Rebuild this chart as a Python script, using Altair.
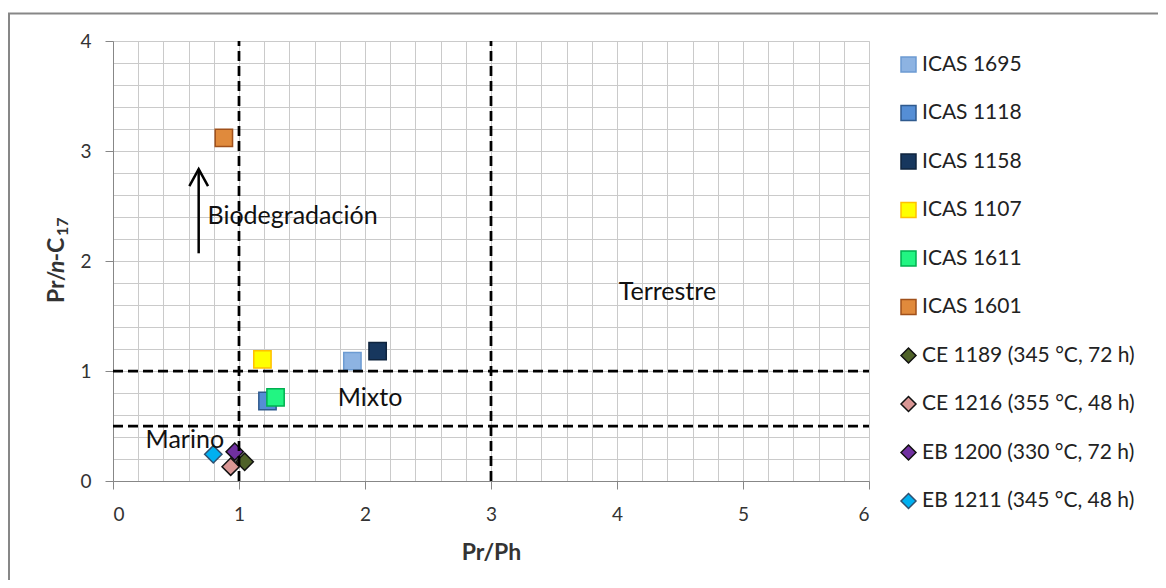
import altair as alt
import pandas as pd

# ---------------- data ----------------
series = ["ICAS 1695", "ICAS 1118", "ICAS 1158", "ICAS 1107", "ICAS 1611", "ICAS 1601",
          "CE 1189 (345 °C, 72 h)", "CE 1216 (355 °C, 48 h)",
          "EB 1200 (330 °C, 72 h)", "EB 1211 (345 °C, 48 h)"]
pr_ph = [1.90, 1.226, 2.10, 1.186, 1.29, 0.88, 1.045, 0.934, 0.966, 0.796]
pr_nc17 = [1.09, 0.727, 1.18, 1.106, 0.76, 3.12, 0.175, 0.13, 0.266, 0.243]
fill_colors = ["#8DB3E2", "#558ED5", "#17375E", "#FFFF00", "#22F582", "#E08A3C",
               "#4F6228", "#D99694", "#7030A0", "#00B0F0"]
stroke_colors = ["#6C9BD2", "#2F5A8E", "#0F243E", "#FFC000", "#00B050", "#A0501A",
                 "#111111", "#111111", "#111111", "#305070"]
marker_shapes = ["square"] * 6 + ["diamond"] * 4

vline_x = [1, 3]
hline_y = [1, 0.5]

ann_text = ["Biodegradación", "Terrestre", "Mixto", "Marino"]
ann_x = [0.75, 4.40, 2.04, 0.57]
ann_y = [2.41, 1.72, 0.757, 0.37]
ann_align = ["left", "center", "center", "center"]

arrow_x = [0.68]
arrow_y0 = [2.07]
arrow_y1 = [2.836]

x_grid = [round(i * 0.2, 1) for i in range(31)]
y_grid = [round(i * 0.2, 1) for i in range(21)]

pts = pd.DataFrame({"series": series, "x": pr_ph, "y": pr_nc17})
vdf = pd.DataFrame({"x": vline_x, "y0": [0] * len(vline_x), "y1": [4] * len(vline_x)})
hdf = pd.DataFrame({"y": hline_y, "x0": [0] * len(hline_y), "x1": [6] * len(hline_y)})
adf = pd.DataFrame({"t": ann_text, "x": ann_x, "y": ann_y, "al": ann_align})
arr = pd.DataFrame({"x": arrow_x, "y0": arrow_y0, "y1": arrow_y1})

# ---------------- scales / axes ----------------
FONT = "Lato"
GRAY = "#878787"
x_scale = alt.Scale(domain=[0, 6], nice=False, zero=False)
y_scale = alt.Scale(domain=[0, 4], nice=False, zero=False)

LBL = "datum.value % 1 == 0 ? format(datum.value, 'd') : ''"
TICKC = {"condition": {"test": "datum.value % 1 != 0", "value": "transparent"}, "value": GRAY}

x_axis = alt.Axis(
    values=x_grid, labelExpr=LBL, tickColor=TICKC,
    tickSize=8, labelPadding=16, labelFontSize=19, labelColor="#333333", labelFont=FONT,
    gridColor="#CACACA", gridWidth=1, domainColor=GRAY, domainWidth=1,
    titleFontSize=23, titleFontWeight="bold", titleColor="#333333", titleFont=FONT,
    titlePadding=17,
)
y_axis = alt.Axis(
    values=y_grid, labelExpr=LBL, tickColor=TICKC,
    tickSize=8, labelPadding=14, labelFontSize=19, labelColor="#333333", labelFont=FONT,
    gridColor="#CACACA", gridWidth=1, domainColor=GRAY, domainWidth=1,
)

def X(field):
    return alt.X(field, type="quantitative", scale=x_scale, axis=x_axis, title="Pr/Ph")

def Y(field):
    return alt.Y(field, type="quantitative", scale=y_scale, axis=y_axis, title=None)

points = alt.Chart(pts).mark_point(filled=True, opacity=1, strokeWidth=1.5, size=300).encode(
    x=X("x"),
    y=Y("y"),
    fill=alt.Fill("series:N", scale=alt.Scale(domain=series, range=fill_colors), title=None,
                  legend=alt.Legend(orient="none", legendX=785, legendY=13, symbolSize=225,
                                    symbolStrokeWidth=1.5, labelFontSize=21, labelFont=FONT,
                                    labelColor="#222222", rowPadding=26.5, labelOffset=3,
                                    labelLimit=400)),
    stroke=alt.Stroke("series:N", scale=alt.Scale(domain=series, range=stroke_colors), title=None),
    shape=alt.Shape("series:N", scale=alt.Scale(domain=series, range=marker_shapes), title=None),
)

vlines = alt.Chart(vdf).mark_rule(color="black", strokeWidth=2.75, strokeDash=[10, 5]).encode(
    x=X("x"), y=Y("y0"), y2="y1"
)
hlines = alt.Chart(hdf).mark_rule(color="black", strokeWidth=2.75, strokeDash=[10, 5]).encode(
    y=Y("y"), x=X("x0"), x2="x1"
)

shaft = alt.Chart(arr).mark_rule(color="black", strokeWidth=2.5).encode(
    x=X("x"), y=Y("y0"), y2="y1"
)
head = alt.Chart(arr).mark_point(shape="M-0.55,1L0,0L0.55,1", size=1156, filled=False,
                                 color="black", strokeWidth=2.5, opacity=1).encode(
    x=X("x"), y=Y("y1")
)

ann_left = alt.Chart(adf[adf.al == "left"]).mark_text(
    align="left", baseline="middle", fontSize=25, font=FONT, color="#111111").encode(
    x=X("x"), y=Y("y"), text="t:N")
ann_center = alt.Chart(adf[adf.al == "center"]).mark_text(
    align="center", baseline="middle", fontSize=25, font=FONT, color="#111111").encode(
    x=X("x"), y=Y("y"), text="t:N")

# y-axis title: Pr/n-C17 (italic n, subscript 17)
one = pd.DataFrame({"k": [0]})
def ypiece(txt, ypx, xpx, size=23, style="normal"):
    return alt.Chart(one).mark_text(align="left", baseline="middle", angle=270, fontSize=size,
                                    fontWeight="bold", fontStyle=style, font=FONT,
                                    color="#333333").encode(
        x=alt.value(xpx), y=alt.value(ypx), text=alt.value(txt))

ytitle = (ypiece("Pr/", 262, -56) + ypiece("n", 232, -56, style="italic")
          + ypiece("-C", 220.5, -56) + ypiece("17", 195, -50, size=16))

# outer chart border (left and top edges visible in the picture)
border_l = alt.Chart(one).mark_rule(color=GRAY, strokeWidth=2).encode(
    x=alt.value(-104), y=alt.value(-27.5), y2=alt.value(600))
border_t = alt.Chart(one).mark_rule(color=GRAY, strokeWidth=2).encode(
    y=alt.value(-27.5), x=alt.value(-105), x2=alt.value(1100))

chart = alt.layer(
    points, vlines, hlines, shaft, head, ann_left, ann_center, ytitle, border_l, border_t
).properties(
    width=756, height=440,
    autosize=alt.AutoSizeParams(type="none"),
    padding={"left": 105, "top": 33, "right": 289, "bottom": 99},
).configure_view(stroke="transparent").configure(font=FONT)

chart.save("out.html", embed_options={"renderer": "svg", "actions": False})
